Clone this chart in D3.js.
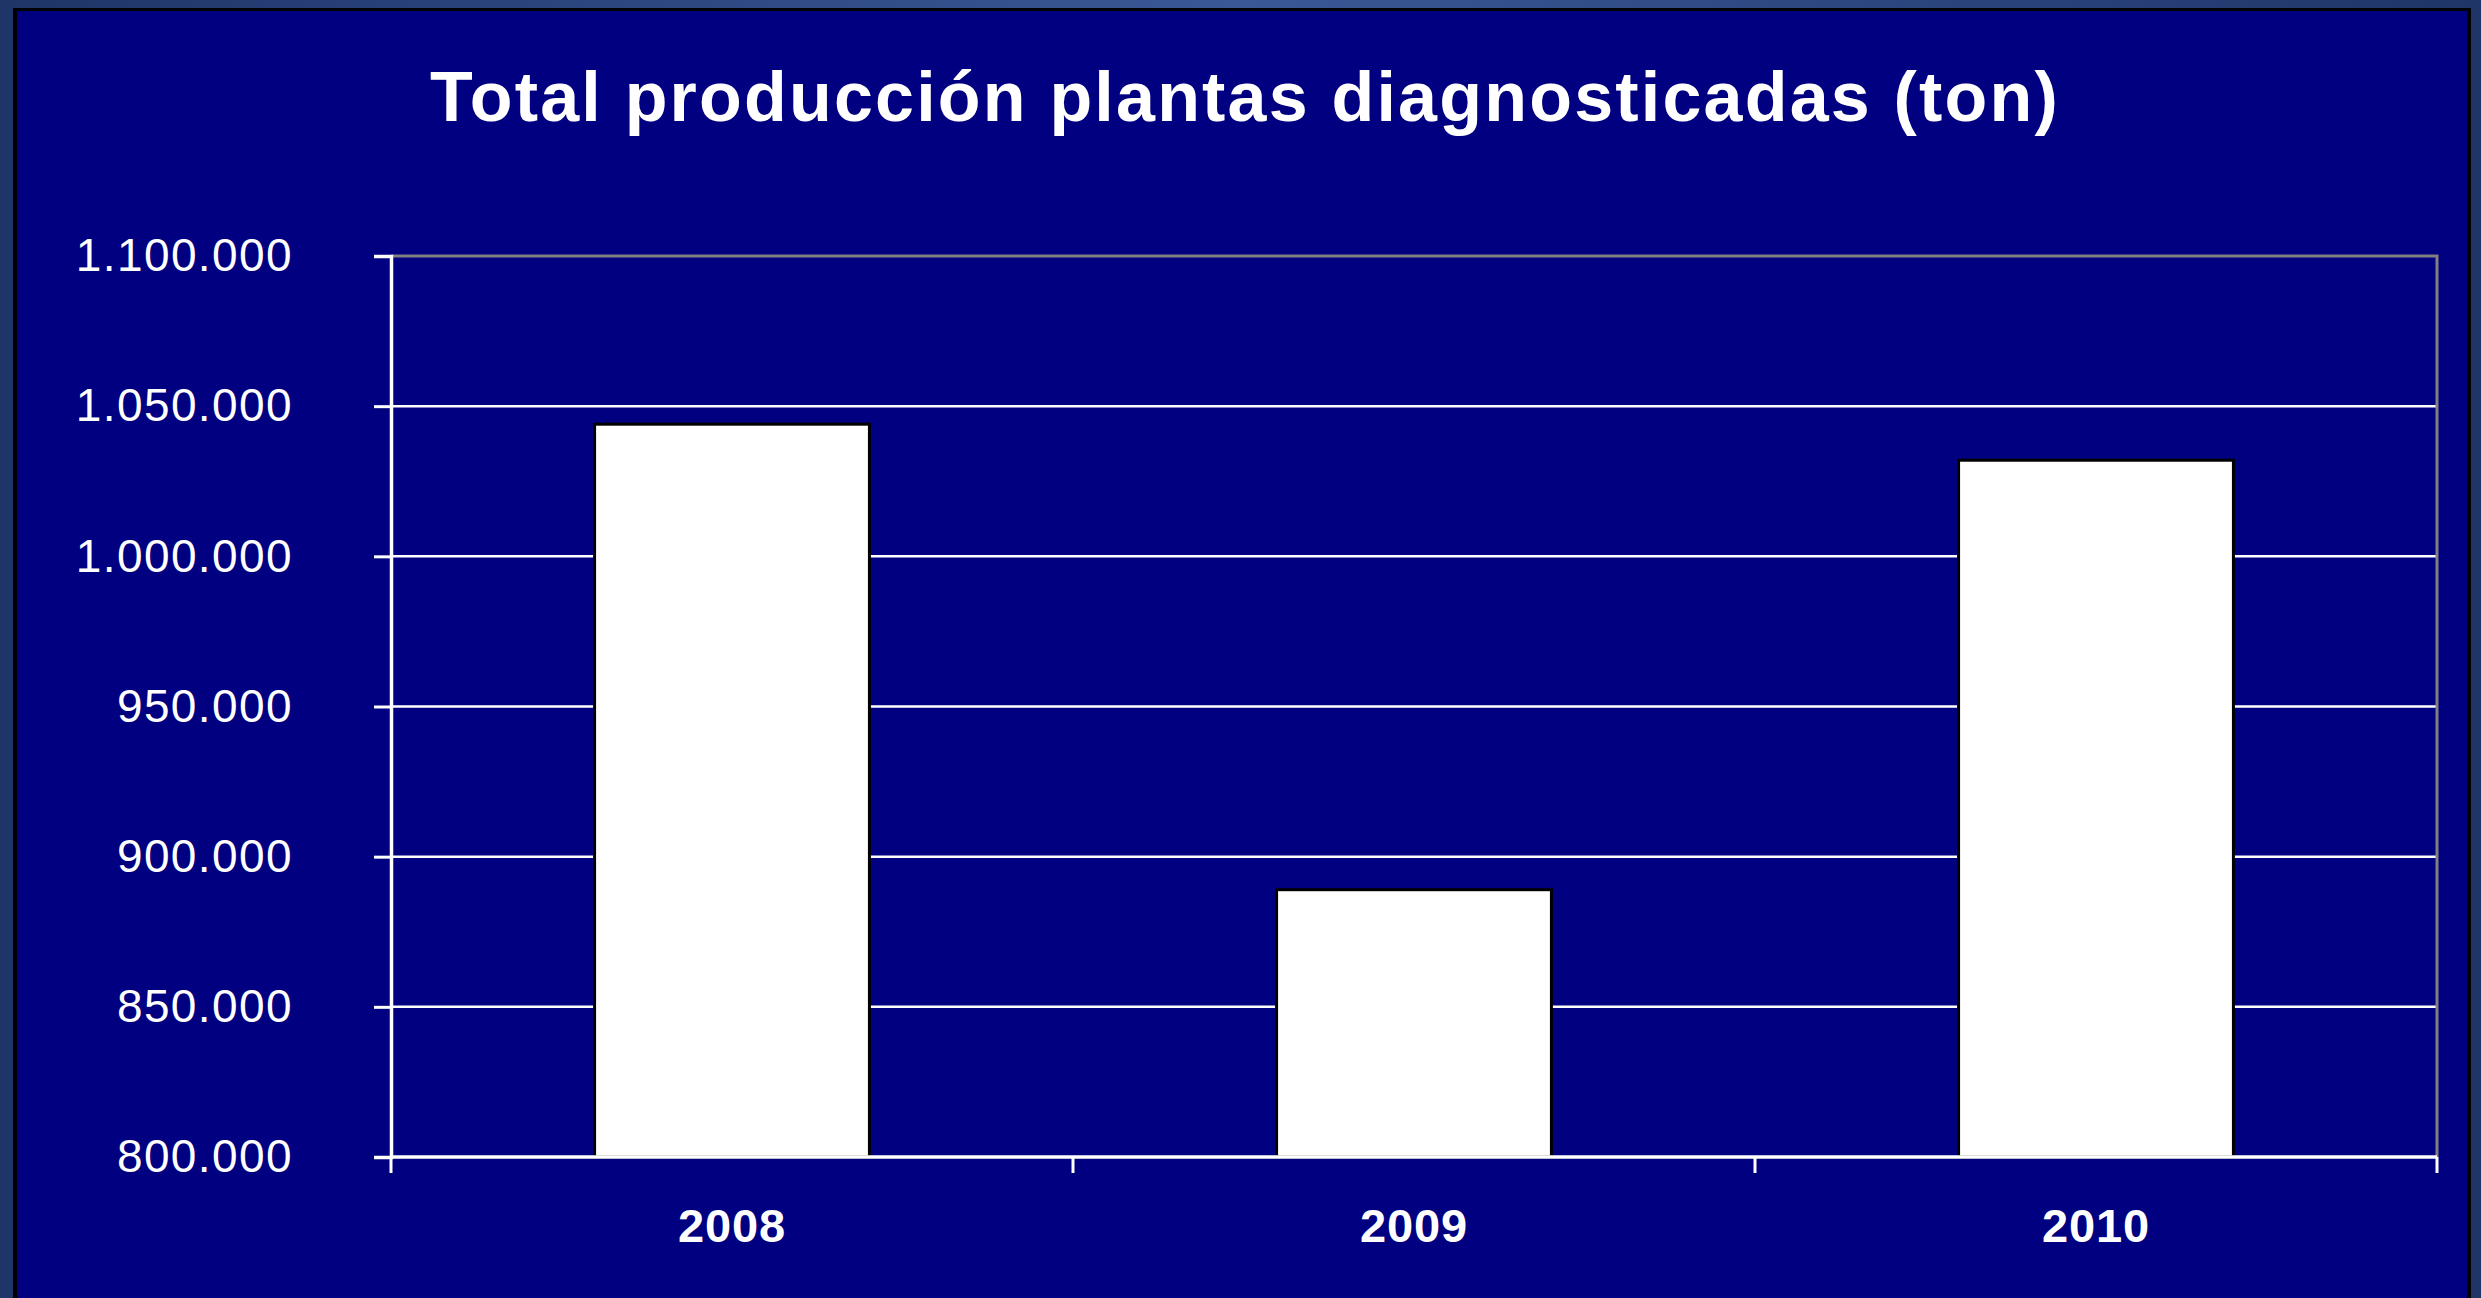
<!DOCTYPE html>
<html>
<head>
<meta charset="utf-8">
<script src="https://cdn.jsdelivr.net/npm/d3@7"></script>
<style>
  body { margin: 0; background: #24407a; }
  svg { display: block; }
</style>
</head>
<body>
<svg></svg>
<script>
// chart data
var years = ["2008", "2009", "2010"];
var production = [1044000, 889000, 1032000];
var yTicks = [800000, 850000, 900000, 950000, 1000000, 1050000, 1100000];
var chartTitle = "Total producción plantas diagnosticadas (ton)";

var svgWidth = 2481, svgHeight = 1298;
var margin = { top: 256, right: 44, bottom: 141, left: 391 };
var width = svgWidth - margin.left - margin.right;
var height = svgHeight - margin.top - margin.bottom;

var svg = d3.select("svg")
  .attr("width", svgWidth)
  .attr("height", svgHeight);

// slide background: soft horizontal gradient behind the navy panel
var defs = svg.append("defs");
var grad = defs.append("linearGradient").attr("id", "bg").attr("x1", "0").attr("x2", "1");
grad.append("stop").attr("offset", "0").attr("stop-color", "#1f3568");
grad.append("stop").attr("offset", "0.5").attr("stop-color", "#3a5896");
grad.append("stop").attr("offset", "1").attr("stop-color", "#1f3568");

svg.append("rect")
  .attr("width", svgWidth).attr("height", svgHeight)
  .attr("fill", "url(#bg)");

// navy panel with black edge
svg.append("rect")
  .attr("x", 13).attr("y", 8)
  .attr("width", 2458).attr("height", 1300)
  .attr("fill", "#000000");
svg.append("rect")
  .attr("x", 17).attr("y", 11)
  .attr("width", 2450).attr("height", 1300)
  .attr("fill", "#000080");

svg.append("text")
  .attr("x", 1245)
  .attr("y", 121)
  .attr("text-anchor", "middle")
  .attr("fill", "#ffffff")
  .style("font-family", "'Liberation Sans', Arial, sans-serif")
  .style("font-weight", "bold")
  .style("font-size", "70px")
  .style("letter-spacing", "2.2px")
  .text(chartTitle);

var g = svg.append("g")
  .attr("transform", "translate(" + margin.left + "," + margin.top + ")");

var x = d3.scaleBand().domain(years).range([0, width]);
var y = d3.scaleLinear().domain([800000, 1100000]).range([height, 0]);

var fmt = function(d) { return d3.format(",")(d).replace(/,/g, "."); };

// horizontal gridlines
g.append("g")
  .selectAll("line")
  .data(yTicks.filter(function(d) { return d > 800000 && d < 1100000; }))
  .enter().append("line")
  .attr("x1", 0).attr("x2", width)
  .attr("y1", function(d) { return y(d); })
  .attr("y2", function(d) { return y(d); })
  .attr("stroke", "#ffffff")
  .attr("stroke-width", 2.5);

// top and right border of plot area
g.append("path")
  .attr("d", "M0,0H" + width + "V" + height)
  .attr("fill", "none")
  .attr("stroke", "#808080")
  .attr("stroke-width", 3);

// bars
var barW = x.bandwidth() * 0.403;
g.selectAll(".bar")
  .data(production)
  .enter().append("rect")
  .attr("class", "bar")
  .attr("x", function(d, i) { return x(years[i]) + x.bandwidth() / 2 - barW / 2; })
  .attr("y", function(d) { return y(d); })
  .attr("width", barW)
  .attr("height", function(d) { return height - y(d); })
  .attr("fill", "#ffffff")
  .attr("stroke", "#000000")
  .attr("stroke-width", 3);

// Y axis
var yAxis = g.append("g")
  .call(d3.axisLeft(y).tickValues(yTicks).tickFormat(fmt).tickSize(17).tickPadding(81));
yAxis.selectAll("line").attr("stroke", "#ffffff").attr("stroke-width", 3);
yAxis.select(".domain").attr("stroke", "#ffffff").attr("stroke-width", 3.5);
yAxis.selectAll("text")
  .attr("fill", "#ffffff")
  .style("font-family", "'Liberation Sans', Arial, sans-serif")
  .style("font-size", "46px")
  .style("letter-spacing", "1.4px");

// X axis: ticks at band edges
var xAxis = g.append("g")
  .attr("transform", "translate(0," + height + ")");
xAxis.append("line")
  .attr("x1", 0).attr("x2", width)
  .attr("stroke", "#ffffff").attr("stroke-width", 3.5);
xAxis.selectAll(".tk")
  .data(years.map(function(d) { return x(d); }).concat([width]))
  .enter().append("line")
  .attr("class", "tk")
  .attr("x1", function(d) { return d; }).attr("x2", function(d) { return d; })
  .attr("y1", 0).attr("y2", 16)
  .attr("stroke", "#ffffff").attr("stroke-width", 3);
xAxis.selectAll(".lbl")
  .data(years)
  .enter().append("text")
  .attr("class", "lbl")
  .attr("x", function(d) { return x(d) + x.bandwidth() / 2; })
  .attr("y", 85)
  .attr("text-anchor", "middle")
  .attr("fill", "#ffffff")
  .style("font-family", "'Liberation Sans', Arial, sans-serif")
  .style("font-weight", "bold")
  .style("font-size", "47px")
  .style("letter-spacing", "0.8px")
  .text(function(d) { return d; });
</script>
</body>
</html>
